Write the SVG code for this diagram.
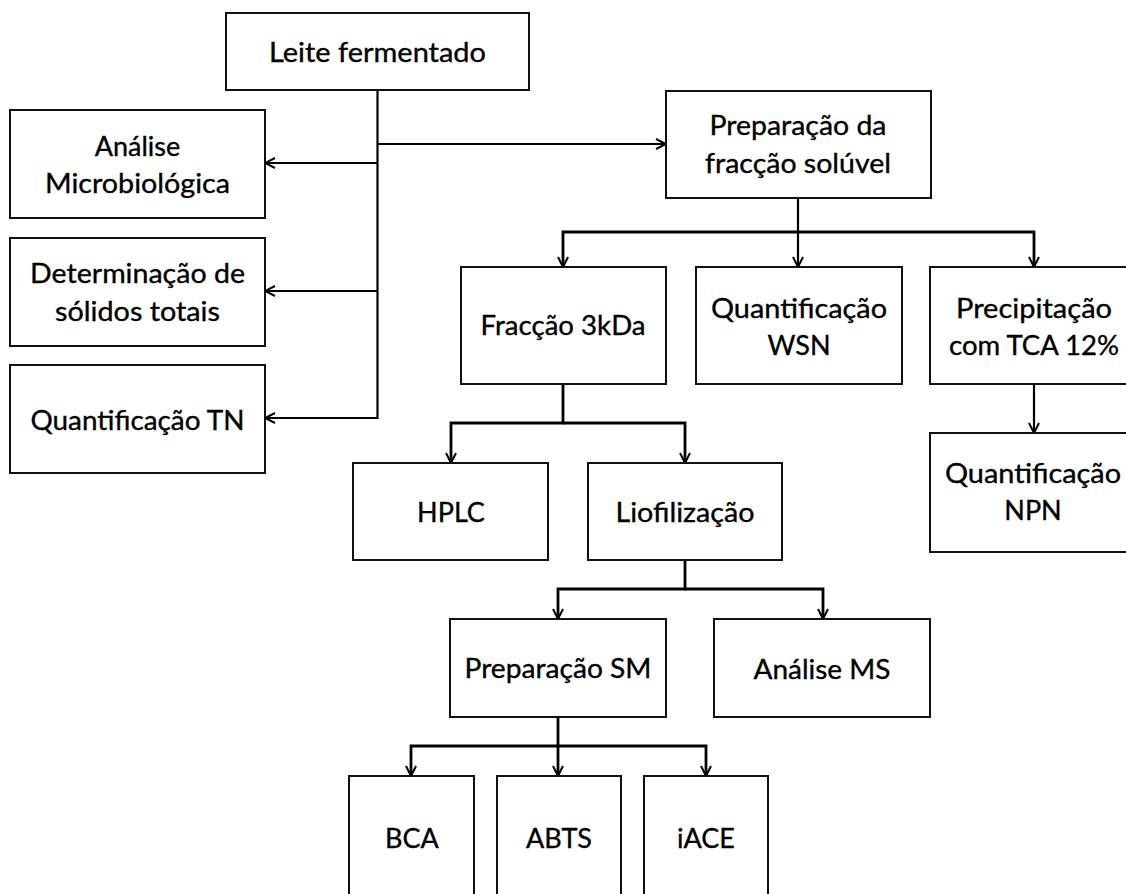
<svg xmlns="http://www.w3.org/2000/svg" width="1126" height="894" viewBox="0 0 1126 894">
<style>
.box{fill:#fff;stroke:#111;stroke-width:2}
.lbl{font-family:Lato,"Liberation Sans",sans-serif;font-size:27px;fill:#000;stroke:#000;stroke-width:0.35;text-anchor:middle}
.c{fill:none;stroke:#000;stroke-width:2.2}
.t{fill:none;stroke:#000;stroke-width:2.8}
</style>
<defs>
<marker id="ah" viewBox="0 0 12 12" refX="11" refY="6" markerWidth="12" markerHeight="12" markerUnits="userSpaceOnUse" orient="auto">
<path d="M1,1 L11,6 L1,11" fill="none" stroke="#000" stroke-width="2"/>
</marker>
</defs>
<rect width="1126" height="894" fill="#fff"/>
<g id="connectors">
<path class="c" d="M377.5,90 V418 H265" marker-end="url(#ah)"/>
<path class="c" d="M377.5,163 H265" marker-end="url(#ah)"/>
<path class="c" d="M377.5,291 H265" marker-end="url(#ah)"/>
<path class="c" d="M377.5,144 H666" marker-end="url(#ah)"/>
<path class="c" d="M798,198 V267" marker-end="url(#ah)"/>
<path class="t" d="M798,232 H563 V267" marker-end="url(#ah)"/>
<path class="t" d="M798,232 H1034 V267" marker-end="url(#ah)"/>
<path class="c" d="M1034,384 V433" marker-end="url(#ah)"/>
<path class="t" d="M563,384 V423 H451 V463" marker-end="url(#ah)"/>
<path class="t" d="M563,423 H685 V463" marker-end="url(#ah)"/>
<path class="t" d="M685,560 V589 H558 V619" marker-end="url(#ah)"/>
<path class="t" d="M685,589 H823 V619" marker-end="url(#ah)"/>
<path class="t" d="M558,717 V746 H411 V776" marker-end="url(#ah)"/>
<path class="t" d="M558,746 H706 V776" marker-end="url(#ah)"/>
<path class="t" d="M558,746 V776" marker-end="url(#ah)"/>
</g>
<g id="leite"><rect class="box" x="226" y="13" width="303" height="77"/><text class="lbl" x="377.5" y="62" textLength="217" lengthAdjust="spacingAndGlyphs">Leite fermentado</text></g>
<g id="analise"><rect class="box" x="10" y="110" width="255" height="108"/><text class="lbl" x="137.5" y="156">Análise</text><text class="lbl" x="137.5" y="193" textLength="185" lengthAdjust="spacingAndGlyphs">Microbiológica</text></g>
<g id="determinacao"><rect class="box" x="10" y="238" width="255" height="108"/><text class="lbl" x="137.5" y="283" textLength="215" lengthAdjust="spacingAndGlyphs">Determinação de</text><text class="lbl" x="137.5" y="321" textLength="165" lengthAdjust="spacingAndGlyphs">sólidos totais</text></g>
<g id="quanttn"><rect class="box" x="10" y="365" width="255" height="108"/><text class="lbl" x="137.5" y="430" textLength="214" lengthAdjust="spacingAndGlyphs">Quantificação TN</text></g>
<g id="preparacao"><rect class="box" x="666" y="91" width="265" height="107"/><text class="lbl" x="798" y="135" textLength="177" lengthAdjust="spacingAndGlyphs">Preparação da</text><text class="lbl" x="798" y="173" textLength="186" lengthAdjust="spacingAndGlyphs">fracção solúvel</text></g>
<g id="fraccao3kda"><rect class="box" x="461" y="267" width="205" height="117"/><text class="lbl" x="563" y="335" textLength="165" lengthAdjust="spacingAndGlyphs">Fracção 3kDa</text></g>
<g id="wsn"><rect class="box" x="696" y="267" width="206" height="117"/><text class="lbl" x="799" y="318" textLength="176" lengthAdjust="spacingAndGlyphs">Quantificação</text><text class="lbl" x="799" y="355">WSN</text></g>
<g id="precipitacao"><rect class="box" x="930" y="267" width="210" height="117"/><text class="lbl" x="1034" y="318" textLength="156" lengthAdjust="spacingAndGlyphs">Precipitação</text><text class="lbl" x="1034" y="355" textLength="170" lengthAdjust="spacingAndGlyphs">com TCA 12%</text></g>
<g id="npn"><rect class="box" x="930" y="433" width="210" height="119"/><text class="lbl" x="1033" y="483" textLength="176" lengthAdjust="spacingAndGlyphs">Quantificação</text><text class="lbl" x="1033" y="520">NPN</text></g>
<g id="hplc"><rect class="box" x="353" y="463" width="195" height="97"/><text class="lbl" x="451" y="522">HPLC</text></g>
<g id="liofilizacao"><rect class="box" x="588" y="463" width="194" height="97"/><text class="lbl" x="685" y="522" textLength="139" lengthAdjust="spacingAndGlyphs">Liofilização</text></g>
<g id="prepsm"><rect class="box" x="450" y="619" width="216" height="98"/><text class="lbl" x="558" y="678" textLength="187" lengthAdjust="spacingAndGlyphs">Preparação SM</text></g>
<g id="analisems"><rect class="box" x="714" y="619" width="216" height="98"/><text class="lbl" x="822" y="679" textLength="137" lengthAdjust="spacingAndGlyphs">Análise MS</text></g>
<g id="bca"><rect class="box" x="349" y="776" width="125" height="130"/><text class="lbl" x="412" y="848">BCA</text></g>
<g id="abts"><rect class="box" x="497" y="776" width="124" height="130"/><text class="lbl" x="559" y="848">ABTS</text></g>
<g id="iace"><rect class="box" x="644" y="776" width="124" height="130"/><text class="lbl" x="706" y="848">iACE</text></g>
</svg>
